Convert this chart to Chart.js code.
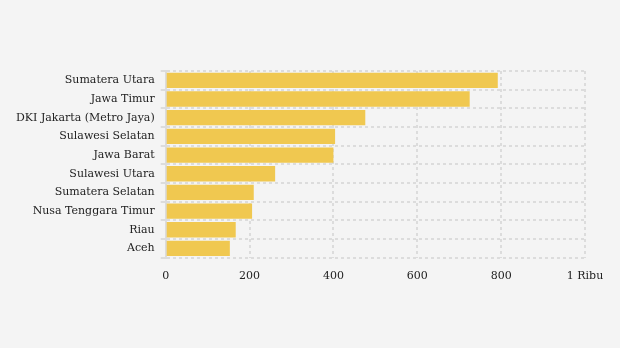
<!DOCTYPE html>
<html>
<head>
<meta charset="utf-8">
<script src="https://cdn.jsdelivr.net/npm/chart.js@4/dist/chart.umd.min.js"></script>
<style>
  html, body { margin: 0; padding: 0; background: #f4f4f4; }
  #wrap { width: 620px; height: 348px; position: relative; }
</style>
</head>
<body>
<div id="wrap"><canvas id="provChart"></canvas></div>
<script>
// Provinces, sorted from largest to smallest
const provinces = [
  'Sumatera Utara', 'Jawa Timur', 'DKI Jakarta (Metro Jaya)', 'Sulawesi Selatan',
  'Jawa Barat', 'Sulawesi Utara', 'Sumatera Selatan', 'Nusa Tenggara Timur', 'Riau', 'Aceh'
];
const counts = [792, 725, 476, 404, 400, 261, 210, 206, 167, 153];
const xTicks = [0, 200, 400, 600, 800, 1000];

const gridColor = '#dcdcdc';
const tickFont = { family: "'DejaVu Serif', serif", size: 11 };

new Chart(document.getElementById('provChart'), {
  type: 'bar',
  data: {
    labels: provinces,
    datasets: [{
      data: counts,
      backgroundColor: '#f0c850',
      borderWidth: 0,
      barPercentage: 0.82,
      categoryPercentage: 1
    }]
  },
  options: {
    indexAxis: 'y',
    responsive: true,
    maintainAspectRatio: false,
    animation: false,
    layout: { padding: { top: 71, right: 35, bottom: 53, left: 10 } },
    plugins: { legend: { display: false }, tooltip: { enabled: false } },
    scales: {
      x: {
        min: 0,
        max: 1000,
        afterBuildTicks: (axis) => { axis.ticks = xTicks.map(v => ({ value: v })); },
        grid: { color: gridColor, lineWidth: 2, drawTicks: false },
        border: { display: false, dash: [3, 3] },
        ticks: {
          color: '#222',
          font: tickFont,
          padding: 12,
          maxRotation: 0,
          callback: (v) => v === 1000 ? '1 Ribu' : v
        }
      },
      y: {
        grid: { color: gridColor, lineWidth: 2, offset: true, tickLength: 5, tickColor: gridColor },
        border: { display: true, color: gridColor, width: 2, dash: [3, 3] },
        ticks: { color: '#222', font: tickFont, padding: 6, autoSkip: false }
      }
    }
  }
});
</script>
</body>
</html>
